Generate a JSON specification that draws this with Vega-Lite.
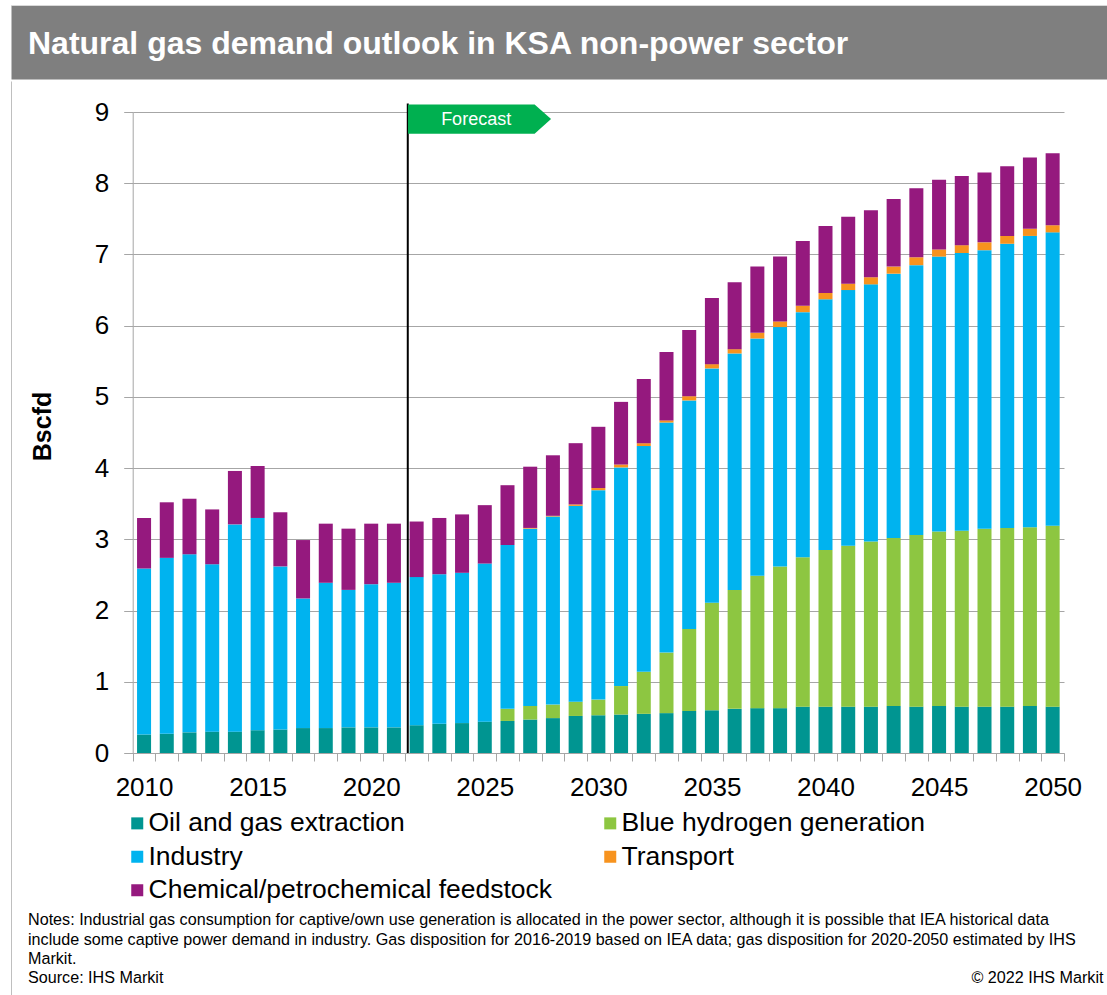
{
  "$schema": "https://vega.github.io/schema/vega-lite/v6.json",
  "padding": {"left": 10, "top": 4, "right": 0, "bottom": 0},
  "background": "white",
  "spacing": 0,
  "config": {"font": "Liberation Sans", "concat": {"spacing": 0}},
  "datasets": {
    "demand": [
      {"year": 2010, "oil": 0.26, "h2": 0, "ind": 2.33, "trans": 0, "chem": 0.71},
      {"year": 2011, "oil": 0.27, "h2": 0, "ind": 2.47, "trans": 0, "chem": 0.78},
      {"year": 2012, "oil": 0.29, "h2": 0, "ind": 2.50, "trans": 0, "chem": 0.78},
      {"year": 2013, "oil": 0.30, "h2": 0, "ind": 2.35, "trans": 0, "chem": 0.77},
      {"year": 2014, "oil": 0.30, "h2": 0, "ind": 2.91, "trans": 0, "chem": 0.75},
      {"year": 2015, "oil": 0.32, "h2": 0, "ind": 2.98, "trans": 0, "chem": 0.73},
      {"year": 2016, "oil": 0.33, "h2": 0, "ind": 2.29, "trans": 0, "chem": 0.76},
      {"year": 2017, "oil": 0.35, "h2": 0, "ind": 1.82, "trans": 0, "chem": 0.82},
      {"year": 2018, "oil": 0.35, "h2": 0, "ind": 2.04, "trans": 0, "chem": 0.83},
      {"year": 2019, "oil": 0.36, "h2": 0, "ind": 1.93, "trans": 0, "chem": 0.86},
      {"year": 2020, "oil": 0.36, "h2": 0, "ind": 2.01, "trans": 0, "chem": 0.85},
      {"year": 2021, "oil": 0.36, "h2": 0, "ind": 2.03, "trans": 0, "chem": 0.83},
      {"year": 2022, "oil": 0.39, "h2": 0, "ind": 2.08, "trans": 0, "chem": 0.78},
      {"year": 2023, "oil": 0.41, "h2": 0, "ind": 2.10, "trans": 0, "chem": 0.79},
      {"year": 2024, "oil": 0.42, "h2": 0, "ind": 2.11, "trans": 0, "chem": 0.82},
      {"year": 2025, "oil": 0.44, "h2": 0, "ind": 2.22, "trans": 0, "chem": 0.82},
      {"year": 2026, "oil": 0.45, "h2": 0.17, "ind": 2.30, "trans": 0, "chem": 0.84},
      {"year": 2027, "oil": 0.47, "h2": 0.19, "ind": 2.49, "trans": 0.01, "chem": 0.86},
      {"year": 2028, "oil": 0.49, "h2": 0.19, "ind": 2.64, "trans": 0.01, "chem": 0.85},
      {"year": 2029, "oil": 0.52, "h2": 0.20, "ind": 2.75, "trans": 0.02, "chem": 0.86},
      {"year": 2030, "oil": 0.53, "h2": 0.22, "ind": 2.94, "trans": 0.03, "chem": 0.86},
      {"year": 2031, "oil": 0.54, "h2": 0.40, "ind": 3.07, "trans": 0.04, "chem": 0.88},
      {"year": 2032, "oil": 0.55, "h2": 0.59, "ind": 3.17, "trans": 0.04, "chem": 0.90},
      {"year": 2033, "oil": 0.56, "h2": 0.85, "ind": 3.23, "trans": 0.03, "chem": 0.96},
      {"year": 2034, "oil": 0.59, "h2": 1.15, "ind": 3.21, "trans": 0.06, "chem": 0.93},
      {"year": 2035, "oil": 0.60, "h2": 1.51, "ind": 3.29, "trans": 0.06, "chem": 0.93},
      {"year": 2036, "oil": 0.62, "h2": 1.67, "ind": 3.32, "trans": 0.06, "chem": 0.94},
      {"year": 2037, "oil": 0.63, "h2": 1.86, "ind": 3.33, "trans": 0.08, "chem": 0.93},
      {"year": 2038, "oil": 0.63, "h2": 1.99, "ind": 3.36, "trans": 0.08, "chem": 0.91},
      {"year": 2039, "oil": 0.65, "h2": 2.10, "ind": 3.44, "trans": 0.09, "chem": 0.91},
      {"year": 2040, "oil": 0.65, "h2": 2.20, "ind": 3.52, "trans": 0.09, "chem": 0.94},
      {"year": 2041, "oil": 0.65, "h2": 2.26, "ind": 3.59, "trans": 0.09, "chem": 0.94},
      {"year": 2042, "oil": 0.65, "h2": 2.32, "ind": 3.61, "trans": 0.10, "chem": 0.94},
      {"year": 2043, "oil": 0.66, "h2": 2.36, "ind": 3.71, "trans": 0.10, "chem": 0.95},
      {"year": 2044, "oil": 0.65, "h2": 2.41, "ind": 3.79, "trans": 0.11, "chem": 0.97},
      {"year": 2045, "oil": 0.66, "h2": 2.45, "ind": 3.86, "trans": 0.10, "chem": 0.98},
      {"year": 2046, "oil": 0.65, "h2": 2.47, "ind": 3.90, "trans": 0.11, "chem": 0.97},
      {"year": 2047, "oil": 0.65, "h2": 2.50, "ind": 3.91, "trans": 0.11, "chem": 0.98},
      {"year": 2048, "oil": 0.65, "h2": 2.51, "ind": 3.99, "trans": 0.11, "chem": 0.98},
      {"year": 2049, "oil": 0.66, "h2": 2.51, "ind": 4.09, "trans": 0.10, "chem": 1.00},
      {"year": 2050, "oil": 0.65, "h2": 2.54, "ind": 4.12, "trans": 0.10, "chem": 1.01}
    ],
    "sectors": [
      {"key": "oil", "label": "Oil and gas extraction", "k": 1},
      {"key": "h2", "label": "Blue hydrogen generation", "k": 2},
      {"key": "ind", "label": "Industry", "k": 3},
      {"key": "trans", "label": "Transport", "k": 4},
      {"key": "chem", "label": "Chemical/petrochemical feedstock", "k": 5}
    ]
  },
  "vconcat": [
    {
      "width": 1097,
      "height": 74,
      "view": {"fill": "#7f7f7f", "stroke": "#d9d9d9", "strokeDash": [1097, 2927]},
      "data": {"values": [{"t": "Natural gas demand outlook in KSA non-power sector"}]},
      "mark": {"type": "text", "align": "left", "baseline": "alphabetic", "dx": -531.5, "dy": 12, "fontSize": 32, "fontWeight": "bold", "color": "white"},
      "encoding": {"text": {"field": "t"}}
    },
    {
      "width": 1097,
      "height": 915,
      "view": {"fill": "white", "stroke": "#bfbfbf", "strokeDash": [0, 3109, 915, 0]},
      "title": {
        "text": [
          "Notes: Industrial gas consumption for captive/own use generation is allocated in the power sector, although it is possible that IEA historical data",
          "include some captive power demand in industry. Gas disposition for 2016-2019 based on IEA data; gas disposition for 2020-2050 estimated by IHS",
          "Markit."
        ],
        "subtitle": "Source: IHS Markit",
        "orient": "bottom",
        "anchor": "start",
        "frame": "group",
        "offset": -84,
        "dx": 17,
        "fontSize": 16.15,
        "fontWeight": "normal",
        "color": "black",
        "lineHeight": 19.5,
        "subtitleFontSize": 16.15,
        "subtitleColor": "black",
        "subtitlePadding": 3,
        "subtitleLineHeight": 19.5
      },
      "layer": [
        {
          "data": {"name": "demand"},
          "transform": [
            {"fold": ["oil", "h2", "ind", "trans", "chem"], "as": ["key", "v"]},
            {"filter": "datum.v > 0"},
            {"lookup": "key", "from": {"data": {"name": "sectors"}, "key": "key", "fields": ["label", "k"]}}
          ],
          "mark": {"type": "bar", "width": {"band": 0.617}},
          "encoding": {
            "x": {
              "field": "year",
              "type": "ordinal",
              "scale": {"range": [121.7, 1053], "paddingInner": 0, "paddingOuter": 0},
              "axis": {
                "title": "© 2022 IHS Markit",
                "titleX": 1092,
                "titleY": 229,
                "titleAlign": "right",
                "titleBaseline": "alphabetic",
                "titleFontSize": 16.15,
                "titleFontWeight": "normal",
                "titleColor": "black",
                "offset": -243,
                "tickBand": "extent",
                "labelExpr": "datum.value % 5 == 0 ? datum.label : ''",
                "labelAngle": 0,
                "labelFontSize": 26,
                "labelColor": "black",
                "labelPadding": 13,
                "labelOverlap": false,
                "domainColor": "#a6a6a6",
                "tickColor": "#a6a6a6",
                "tickSize": 8,
                "grid": false
              }
            },
            "y": {
              "field": "v",
              "type": "quantitative",
              "stack": "zero",
              "scale": {"domain": [0, 9], "range": [672, 31], "nice": false},
              "axis": {
                "title": "Bscfd",
                "titleX": -90,
                "titleY": 345,
                "titleAngle": 270,
                "titleAlign": "center",
                "titleBaseline": "middle",
                "titleFontSize": 25,
                "titleFontWeight": "bold",
                "titleColor": "black",
                "offset": -121.7,
                "values": [0, 1, 2, 3, 4, 5, 6, 7, 8, 9],
                "format": "d",
                "labelFontSize": 26,
                "labelColor": "black",
                "labelPadding": 15,
                "domainColor": "#a6a6a6",
                "tickColor": "#a6a6a6",
                "tickSize": 9,
                "grid": true,
                "gridColor": "#a6a6a6"
              }
            },
            "color": {
              "field": "label",
              "type": "nominal",
              "scale": {
                "domain": ["Oil and gas extraction", "Industry", "Chemical/petrochemical feedstock", "Blue hydrogen generation", "Transport"],
                "range": ["#009591", "#00b3ef", "#95197e", "#8dc641", "#f7931e"]
              },
              "legend": {
                "orient": "none",
                "legendX": 113,
                "legendY": 805,
                "columns": 2,
                "title": null,
                "symbolType": "square",
                "symbolSize": 144,
                "symbolStrokeWidth": 0,
                "labelFontSize": 26.5,
                "labelColor": "black",
                "labelOffset": -2,
                "labelLimit": 600,
                "columnPadding": 44,
                "rowPadding": 6.5,
                "padding": 0
              }
            },
            "order": {"field": "k", "type": "quantitative", "sort": "ascending"}
          }
        },
        {
          "data": {"values": [{"lab": "Forecast"}]},
          "mark": {"type": "rule", "color": "black", "strokeWidth": 2},
          "encoding": {
            "x": {"datum": 2022, "type": "ordinal", "bandPosition": 0.11},
            "y": {"datum": 9.12, "type": "quantitative"},
            "y2": {"datum": 0}
          }
        },
        {
          "data": {"values": [{"lab": "Forecast"}]},
          "mark": {"type": "point", "shape": "M-1,-0.203L0.77,-0.203L1,0L0.77,0.203L-1,0.203Z", "size": 20449, "filled": true, "color": "#00b050", "opacity": 1, "strokeWidth": 0},
          "encoding": {
            "x": {"datum": 2025, "type": "ordinal", "bandPosition": 0.27},
            "y": {"datum": 8.9, "type": "quantitative"}
          }
        },
        {
          "data": {"values": [{"lab": "Forecast"}]},
          "mark": {"type": "text", "color": "white", "fontSize": 18, "align": "center", "baseline": "middle"},
          "encoding": {
            "x": {"datum": 2025, "type": "ordinal", "bandPosition": 0.12},
            "y": {"datum": 8.89, "type": "quantitative"},
            "text": {"field": "lab"}
          }
        }
      ]
    }
  ]
}
